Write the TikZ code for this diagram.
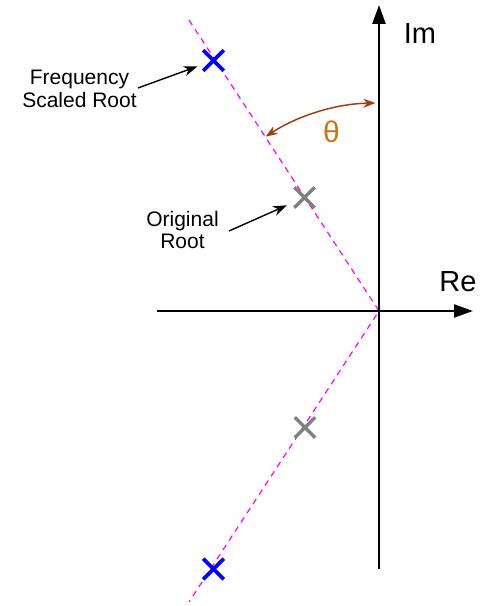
\documentclass[tikz,border=0pt]{standalone}
\usepackage{fontspec}
\setmainfont{Liberation Sans}
\usetikzlibrary{arrows.meta,shapes.misc}
\definecolor{arcbrown}{RGB}{160,64,16}
\definecolor{thetaorange}{RGB}{196,121,22}
\definecolor{rootmagenta}{RGB}{255,0,255}
\definecolor{rootgray}{RGB}{128,128,128}
\definecolor{rootblue}{RGB}{0,0,255}
\begin{document}
\begin{tikzpicture}[x=1pt,y=1pt,
  axis/.style={line width=2.4pt, -{Triangle[length=19pt,width=13pt]}},
  rootline/.style={rootmagenta, line width=1.2pt, dash pattern=on 6pt off 5pt},
  scaledroot/.style={cross out, draw=rootblue, line width=3.6pt, minimum size=17pt, inner sep=0pt},
  origroot/.style={cross out, draw=rootgray, line width=3.4pt, minimum size=17pt, inner sep=0pt},
  pointer/.style={line width=1.4pt, -{Stealth[length=14pt,width=10pt]}},
  lbl/.style={font=\fontsize{21}{22.5}\selectfont, align=center, inner sep=0pt},
  axlbl/.style={font=\fontsize{29}{32}\selectfont, inner sep=0pt}]
\useasboundingbox (0,0) rectangle (491,606);
% coordinates
\coordinate (O) at (379,295);
\coordinate (imbot) at (379,37);
\coordinate (imtop) at (379,601);
\coordinate (releft) at (157,295);
\coordinate (retip) at (473,295);
\coordinate (dtop) at (189,586);
\coordinate (dbot) at (189,4);
% dashed root lines
\draw[rootline] (dtop) -- (O) -- (dbot);
% axes
\draw[axis] (imbot) -- (imtop);
\draw[axis] (releft) -- (retip);
\node[axlbl] (im) at (420,572) {Im};
\node[axlbl] (re) at (458,324.5) {Re};
% roots
\node[scaledroot] (bx1) at (213.5,545.5) {};
\node[scaledroot] (bx2) at (213.5,37) {};
\node[origroot] (gx1) at (304.5,408.5) {};
\node[origroot] (gx2) at (305,178.5) {};
% angle
\draw[arcbrown, line width=1.5pt, {Stealth[length=12pt,width=9pt]}-{Stealth[length=12pt,width=9pt]}]
  (O) ++(123:208) arc[start angle=123, end angle=91, radius=208];
\node[text=thetaorange, font=\fontsize{30}{32}\selectfont, inner sep=0pt] (theta) at (331.5,474) {θ};
% labels
\node[lbl] (freq) at (79.5,517) {Frequency\\Scaled Root};
\node[lbl] (orig) at (182.5,376) {Original\\Root};
\coordinate (freqstart) at (138,518);
\coordinate (origstart) at (229,375);
\draw[pointer, shorten >=6pt] (freqstart) -- (bx1);
\draw[pointer, shorten >=8pt] (origstart) -- (gx1);
\end{tikzpicture}
\end{document}
